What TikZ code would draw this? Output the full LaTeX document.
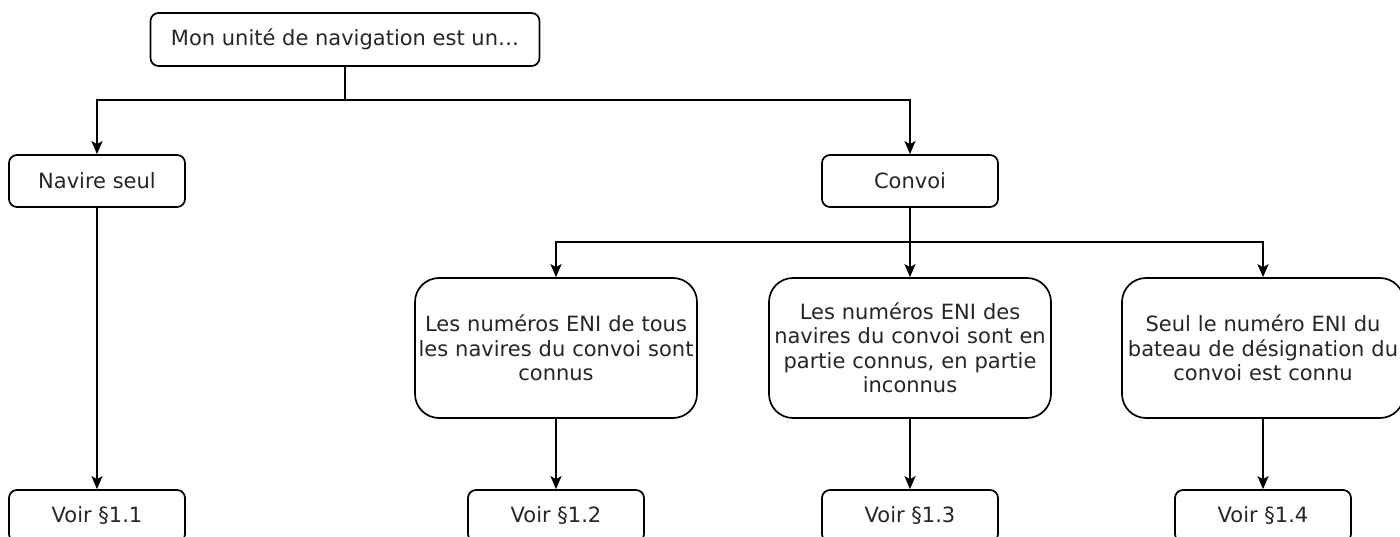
\documentclass[tikz,border=0pt]{standalone}
\usepackage{fontspec}
\setmainfont{DejaVu Sans}
\usetikzlibrary{arrows.meta}
\begin{document}
\begin{tikzpicture}[x=1pt,y=1pt,
  box/.style={draw=black, line width=1.7pt, rounded corners=8pt, fill=white,
    minimum width=176pt, minimum height=52pt, inner sep=0pt, align=center,
    text=black!85, font=\fontsize{21}{24.5}\selectfont},
  bigbox/.style={box, rounded corners=24pt, minimum width=282pt, minimum height=140pt, text width=280pt},
  arr/.style={line width=1.7pt, -{Stealth[length=13pt,width=11pt,inset=3pt]}},
  ln/.style={line width=1.7pt}]
\useasboundingbox (0,0) rectangle (1400,-537);
\node[box, minimum width=389pt, minimum height=53pt] (top) at (345,-39.5) {Mon unité de navigation est un…};
\node[box] (nav) at (97,-181) {Navire seul};
\node[box] (conv) at (910,-181) {Convoi};
\node[bigbox] (b2) at (556,-348) {Les numéros ENI de tous\\les navires du convoi sont\\connus};
\node[bigbox] (b3) at (910,-348) {Les numéros ENI des\\navires du convoi sont en\\partie connus, en partie\\inconnus};
\node[bigbox] (b4) at (1263,-348) {Seul le numéro ENI du\\bateau de désignation du\\convoi est connu};
\node[box] (v1) at (97,-516) {Voir §1.1};
\node[box] (v2) at (556,-516) {Voir §1.2};
\node[box] (v3) at (910,-516) {Voir §1.3};
\node[box] (v4) at (1263,-516) {Voir §1.4};
\coordinate (j1) at (345,-100);
\coordinate (j2) at (910,-242);
\draw[ln] (top.south) -- (j1);
\draw[arr] (j1) -| (nav.north);
\draw[arr] (j1) -| (conv.north);
\draw[ln] (conv.south) -- (j2);
\draw[arr] (j2) -| (b2.north);
\draw[arr] (j2) -- (b3.north);
\draw[arr] (j2) -| (b4.north);
\draw[arr] (nav.south) -- (v1.north);
\draw[arr] (b2.south) -- (v2.north);
\draw[arr] (b3.south) -- (v3.north);
\draw[arr] (b4.south) -- (v4.north);
\end{tikzpicture}
\end{document}
